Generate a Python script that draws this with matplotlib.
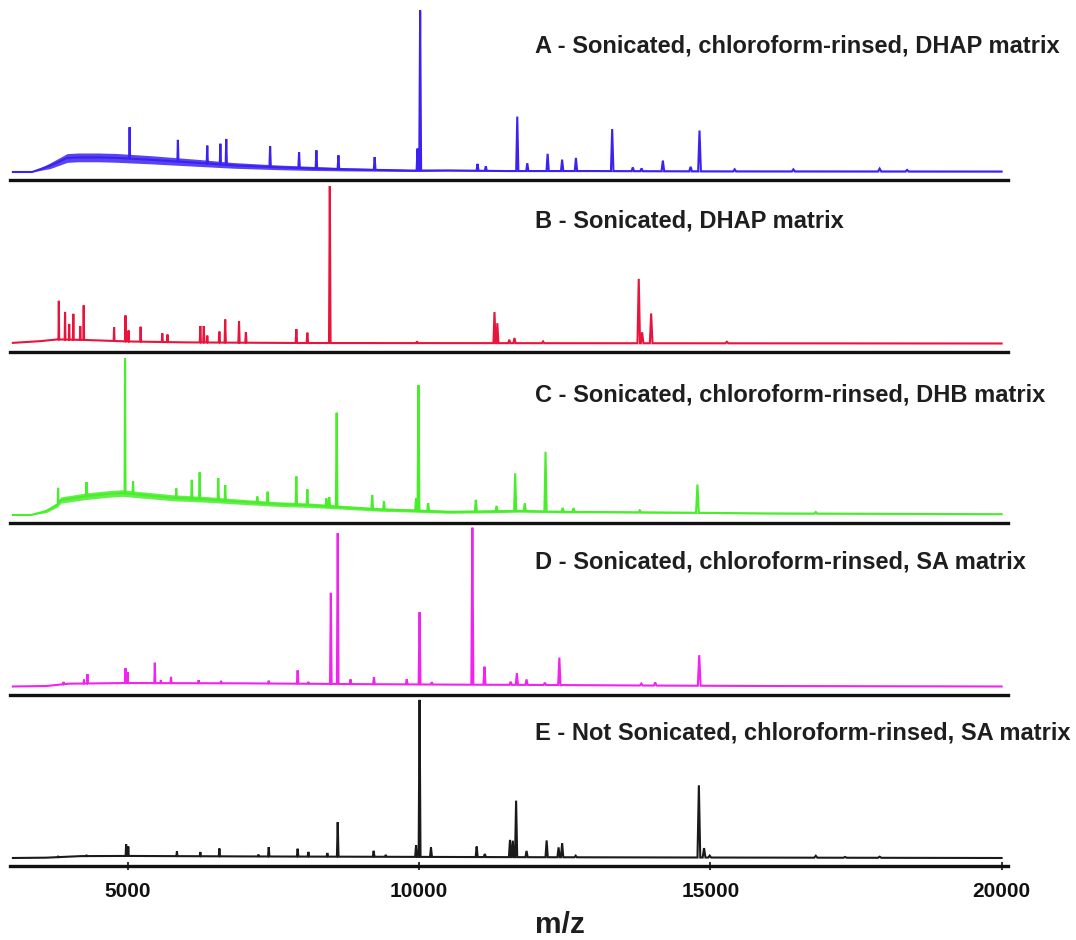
import numpy as np
import matplotlib
matplotlib.use("Agg")
import matplotlib.pyplot as plt

plt.rcParams['font.family'] = ['Liberation Sans', 'DejaVu Sans']
plt.rcParams['font.weight'] = 'bold'

# shared m/z axis
x_ticks = [5000, 10000, 15000, 20000]
x_range = (2980, 20110)

labels = [
    "A - Sonicated, chloroform-rinsed, DHAP matrix",
    "B - Sonicated, DHAP matrix",
    "C - Sonicated, chloroform-rinsed, DHB matrix",
    "D - Sonicated, chloroform-rinsed, SA matrix",
    "E - Not Sonicated, chloroform-rinsed, SA matrix",
]
colors = ["#3C22F2", "#E8143C", "#48EE2A", "#F024EE", "#1A1A1A"]

# --- A: baseline (m/z, level %), noise band half-width, peaks (m/z, rel. intensity %)
a_base_mz = [3030, 3360, 3670, 3960, 4150, 4500, 4800, 5390, 6250, 6820, 7550, 8140, 8740, 9320, 9900, 10500, 11500, 13000, 15000, 20000]
a_base_lvl = [0, 0, 4.0, 8.9, 9.3, 9.3, 9.0, 7.8, 5.7, 4.2, 3.0, 2.3, 1.7, 1.3, 0.9, 1.0, 0.6, 0.6, 0.4, 0.3]
a_noise = [0, 0, 1.8, 2.8, 2.8, 2.8, 2.8, 2.6, 2.2, 1.8, 1.5, 1.3, 1.0, 0.8, 0.6, 0.4, 0.3, 0.3, 0.2, 0.2]
a_peak_mz = [5033, 5862, 6366, 6591, 6692, 7445, 7942, 8239, 8617, 9239, 9975, 10020, 11005, 11147, 11687, 11859,
             12208, 12457, 12694, 13316, 13670, 13820, 14186, 14662, 14815, 15419, 16426, 17907, 18378]
a_peak_h = [20, 13.8, 11.4, 13.2, 16.5, 13.2, 9.9, 11.6, 8.8, 8.1, 14, 102, 4.4, 2.9, 34.7, 5,
            11, 7.3, 8.4, 26.8, 2.4, 1.8, 6.8, 2.9, 26, 1.3, 1.3, 1.8, 1]

# --- B
b_base_mz = [3030, 3500, 3800, 4300, 5000, 6000, 8000, 20000]
b_base_lvl = [0.4, 1.5, 2.6, 2.2, 1.3, 0.7, 0.3, 0]
b_peak_mz = [3818, 3925, 3996, 4067, 4186, 4245, 4767, 4962, 5015, 5222, 5594, 5684, 6247, 6306, 6366, 6574,
             6674, 6911, 7029, 7895, 8084, 8469, 9966, 11296, 11345, 11550, 11639, 12130, 13772, 13830, 13985, 15284]
b_peak_h = [24.6, 17.6, 10, 16.5, 8.8, 22, 8.8, 16.5, 7, 9.5, 5.5, 4.8, 10.5, 10.5, 4.4, 7,
            14.7, 13.6, 6.6, 8.8, 6.6, 100, 1.1, 19.8, 12.7, 2.2, 3.3, 1.1, 41, 7, 19, 1]

# --- C
c_base_mz = [3030, 3340, 3600, 3790, 3850, 4290, 4700, 4910, 5180, 5770, 6370, 6950, 7550, 8140, 8740, 9320, 9920,
             10510, 11100, 11700, 12500, 13500, 14500, 16000, 20000]
c_base_lvl = [0, 0, 2.5, 6.5, 9.5, 12, 13.5, 14, 13, 11, 9.9, 8.4, 7, 6.2, 4.8, 3.5, 2.8,
              2.0, 2.2, 2.6, 2.0, 1.8, 1.5, 1.0, 0.5]
c_noise = [0, 0, 1.0, 1.5, 2.0, 2.1, 2.1, 2.1, 2.0, 1.9, 1.8, 1.6, 1.5, 1.4, 1.2, 1.1, 1.0,
           0.9, 0.9, 0.8, 0.6, 0.5, 0.4, 0.3, 0.2]
c_peak_mz = [3806, 4292, 4955, 5092, 5834, 6100, 6235, 6555, 6674, 7225, 7402, 7895, 8084, 8410, 8460, 8587,
             9197, 9399, 9950, 9991, 10158, 10976, 11331, 11651, 11816, 12172, 12467, 12653, 13790, 14779, 16811]
c_peak_h = [10, 9, 86, 8, 6, 12, 17, 14, 10, 4, 7.5, 18, 10, 5, 6, 60,
            9, 5.5, 8, 80, 5, 7.5, 3.5, 24, 5, 38, 2.5, 2.5, 1.2, 18, 1]

# --- D
d_base_mz = [3030, 3600, 4000, 5000, 7000, 9000, 10500, 12000, 14000, 16000, 20000]
d_base_lvl = [0, 0.3, 1.8, 2.2, 2.0, 1.5, 1.2, 1.0, 0.6, 0.3, 0]
d_peak_mz = [3900, 4250, 4309, 4962, 5000, 5466, 5570, 5744, 6218, 6603, 7421, 7917, 8100, 8487, 8605, 8825,
             9227, 9790, 10010, 10220, 10916, 11124, 11574, 11680, 11846, 12160, 12409, 13817, 14055, 14810]
d_peak_h = [1.5, 2.5, 6, 9.5, 7, 13, 2, 4, 2, 1.6, 1.8, 8.5, 1.2, 58, 96, 3,
            4.5, 3.3, 46, 1.5, 100, 11.5, 2, 7.5, 3.5, 1.5, 17.5, 1.2, 2, 19.5]

# --- E
e_base_mz = [3030, 3600, 4200, 5000, 7000, 9000, 12000, 15000, 20000]
e_base_lvl = [0, 0.2, 1.2, 1.3, 1.0, 0.8, 0.5, 0.3, 0]
e_peak_mz = [3806, 4292, 4973, 5010, 5845, 6247, 6574, 7244, 7421, 7917, 8102, 8427, 8605, 9222, 9430, 9950,
             10010, 10206, 10990, 11130, 11562, 11610, 11667, 11846, 12191, 12396, 12457, 12690, 14804, 14893,
             14990, 16811, 17313, 17907]
e_peak_h = [0.8, 0.8, 7.5, 6, 3, 2.7, 5, 1.2, 6, 5, 3, 2.3, 22, 3.8, 1.2, 7.5,
            100, 6, 6.7, 2, 11, 10.5, 36, 4, 10.7, 6.3, 9, 1, 46, 6,
            1.2, 1.2, 0.5, 0.7]

bases = [(a_base_mz, a_base_lvl), (b_base_mz, b_base_lvl), (c_base_mz, c_base_lvl),
         (d_base_mz, d_base_lvl), (e_base_mz, e_base_lvl)]
peaks = [(a_peak_mz, a_peak_h), (b_peak_mz, b_peak_h), (c_peak_mz, c_peak_h),
         (d_peak_mz, d_peak_h), (e_peak_mz, e_peak_h)]
noise = [a_noise, None, c_noise, None, None]


def spectrum(base_mz, base_lvl, peak_mz, peak_h):
    # baseline plus narrow triangular peaks, evaluated at every vertex
    base_mz = np.asarray(base_mz, float)
    peak_mz = np.asarray(peak_mz, float)
    half = 0.0016 * peak_mz
    xs = np.unique(np.concatenate([base_mz, peak_mz - half, peak_mz, peak_mz + half]))
    ys = np.interp(xs, base_mz, base_lvl)
    for m, h, w in zip(peak_mz, peak_h, half):
        ys += np.interp(xs, [m - w, m, m + w], [0, h, 0], left=0, right=0)
    return xs, ys


W, H = 1076, 940
fig = plt.figure(figsize=(W / 100, H / 100), dpi=100)

line_y = [180, 351.5, 523, 694.5, 866]   # bottom rule of each panel, pixels from top
panel_h = 171
label_y = [0.745, 0.723, 0.711, 0.739, 0.742]

for i in range(5):
    ax = fig.add_axes([10 / W, (H - line_y[i]) / H, 998 / W, panel_h / H])
    xs, ys = spectrum(*bases[i], *peaks[i])
    if noise[i] is not None:
        bm, bl = np.asarray(bases[i][0], float), np.asarray(bases[i][1], float)
        nz = np.asarray(noise[i])
        ax.fill_between(bm, bl - nz, bl + nz, color=colors[i], lw=0, alpha=0.85)
    ax.plot(xs, ys, color=colors[i], lw=1.5, clip_on=False, solid_joinstyle='miter')

    ax.set_xlim(*x_range)
    ax.set_ylim(-5.1, 103.8)
    ax.patch.set_visible(False)
    for s in ['top', 'left', 'right']:
        ax.spines[s].set_visible(False)
    ax.spines['bottom'].set_linewidth(2.4)
    ax.spines['bottom'].set_color('#111111')
    ax.set_yticks([])
    if i < 4:
        ax.set_xticks([])
    else:
        ax.set_xticks(x_ticks)
        ax.set_xticklabels([str(t) for t in x_ticks])
        ax.tick_params(axis='x', direction='inout', length=6, width=1.2, pad=8.5,
                       labelsize=15, colors='#111111')
        for lab in ax.get_xticklabels():
            lab.set_fontweight('bold')

    ax.text(0.526, label_y[i], labels[i], transform=ax.transAxes, ha='left', va='baseline',
            fontsize=17, fontweight='bold', color='#1E1E1E')

fig.text(535 / W, 7 / H, "m/z", ha='left', va='baseline', fontsize=21.5, fontweight='bold', color='#1E1E1E')

fig.savefig("out.png", dpi=100)
